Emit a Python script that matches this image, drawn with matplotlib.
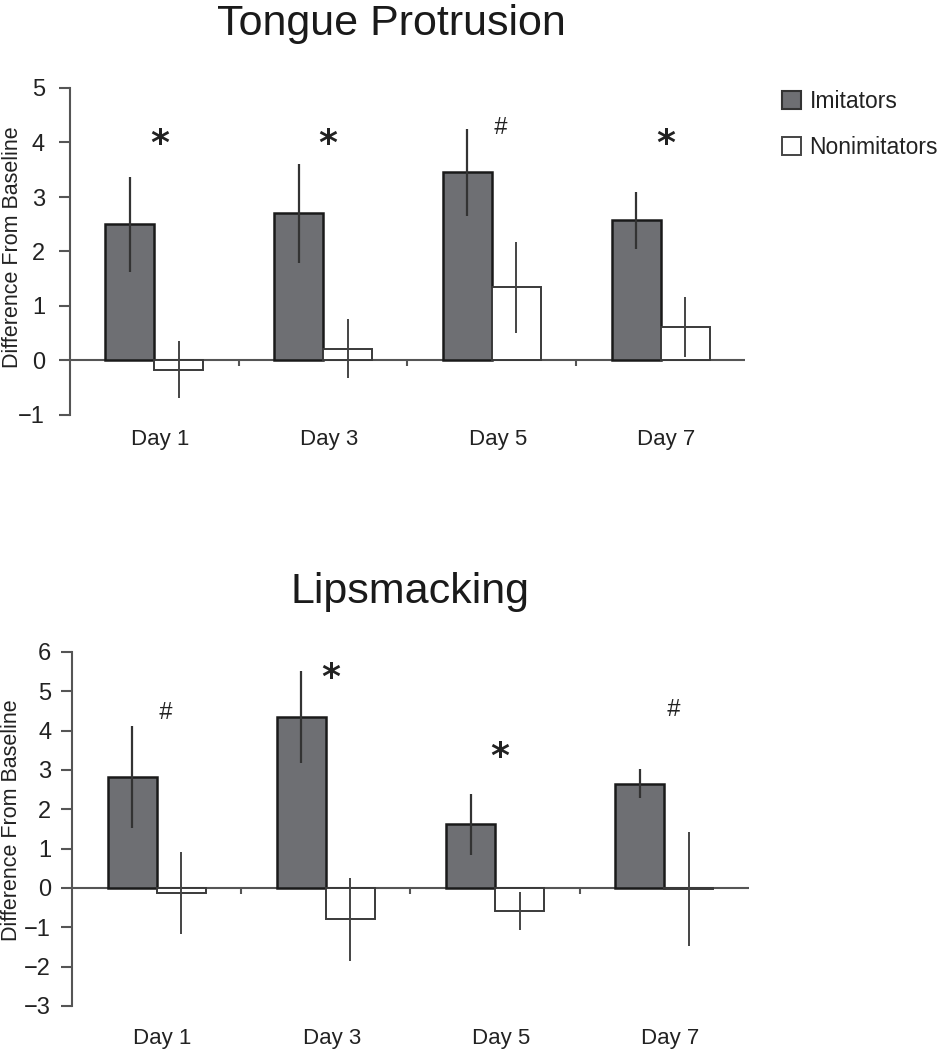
import numpy as np
import matplotlib
matplotlib.use("Agg")
import matplotlib.pyplot as plt
from matplotlib.patches import Patch

plt.rcParams['font.family'] = ['Liberation Sans', 'DejaVu Sans']

days = ["Day 1", "Day 3", "Day 5", "Day 7"]

# Tongue protrusion
tp_imit = [2.50, 2.70, 3.45, 2.57]
tp_imit_err = [0.87, 0.91, 0.80, 0.53]
tp_non = [-0.17, 0.22, 1.34, 0.61]
tp_non_err = [0.52, 0.55, 0.83, 0.55]
tp_marks = ["*", "*", "#", "*"]
tp_mark_y = [4.1, 4.1, 4.28, 4.1]

# Lipsmacking
ls_imit = [2.82, 4.34, 1.62, 2.65]
ls_imit_err = [1.30, 1.17, 0.77, 0.37]
ls_non = [-0.13, -0.80, -0.59, -0.03]
ls_non_err = [1.05, 1.06, 0.48, 1.45]
ls_marks = ["#", "*", "*", "#"]
ls_mark_y = [4.45, 5.5, 3.5, 4.53]

GRAY = "#6e6f73"
W = 0.29

fig = plt.figure(figsize=(9.45, 10.5), dpi=100)


def panel(rect, title, title_x, title_y, imit, imit_err, non, non_err, marks, mark_y,
          ylim, yticks, xpad, ypad, ylab_xy, star_shift):
    ax = fig.add_axes(rect)
    x = np.arange(len(days))
    ax.bar(x - W / 2, imit, W, color=GRAY, edgecolor="#1a1a1a", linewidth=1.8, zorder=2)
    ax.bar(x + W / 2, non, W, color="white", edgecolor="#3a3a3a", linewidth=1.4, zorder=2)
    ax.errorbar(x - W / 2, imit, yerr=imit_err, fmt="none", ecolor="#333333",
                elinewidth=1.6, capsize=0, zorder=3)
    ax.errorbar(x + W / 2, non, yerr=non_err, fmt="none", ecolor="#444444",
                elinewidth=1.4, capsize=0, zorder=3)
    ax.axhline(0, color="#555555", linewidth=1.5, zorder=1)
    bounds = x[:-1] + 0.5
    ax.plot(bounds, np.zeros(len(bounds)), linestyle="none", marker=3,
            markersize=4, color="#555555", markeredgewidth=1.5, zorder=1)
    for xi, m, my in zip(x, marks, mark_y):
        if m == "*":
            ax.text(xi + 0.03, my - star_shift, m, ha="center", va="center", fontsize=26,
                    color="#222222", family="DejaVu Sans", fontweight="bold")
        else:
            ax.text(xi + 0.05, my, m, ha="center", va="center", fontsize=17,
                    color="#222222", style="italic")
    ax.set_xlim(-0.5, 3.5)
    ax.set_ylim(*ylim)
    ax.set_yticks(yticks)
    ax.set_yticklabels([("\u2212%d" % -t) if t < 0 else str(t) for t in yticks])
    ax.set_xticks(x + 0.035)
    ax.set_xticklabels(days, fontsize=16, color="#222222")
    ax.tick_params(axis="x", length=0, pad=xpad)
    ax.tick_params(axis="y", length=8, width=1.5, color="#555555", labelsize=17,
                   pad=ypad, labelcolor="#222222")
    for s in ("top", "right", "bottom"):
        ax.spines[s].set_visible(False)
    ax.spines["left"].set_color("#555555")
    ax.spines["left"].set_linewidth(1.5)
    ax.set_ylabel("Difference From Baseline", fontsize=15.5, color="#222222")
    ax.yaxis.set_label_coords(*ylab_xy)
    fig.text(title_x, title_y, title, ha="center", va="baseline",
             fontsize=31, color="#1a1a1a")
    return ax


ax1 = panel([70 / 945, 1 - 415 / 1050, 675 / 945, 327 / 1050], "Tongue Protrusion",
            391 / 945, 1 - 35 / 1050,
            tp_imit, tp_imit_err, tp_non, tp_non_err, tp_marks, tp_mark_y,
            (-1, 5), list(range(-1, 6)), 10, 10, ((23 - 70) / 675, 0.514), 0.12)
ax2 = panel([72 / 945, 1 - 1006 / 1050, 677 / 945, 354 / 1050], "Lipsmacking",
            410 / 945, 1 - 603 / 1050,
            ls_imit, ls_imit_err, ls_non, ls_non_err, ls_marks, ls_mark_y,
            (-3, 6), list(range(-3, 7)), 16, 7, ((22 - 72) / 677, 0.525), 0.17)

handles = [Patch(facecolor=GRAY, edgecolor="#333333", linewidth=1.5, label="Imitators"),
           Patch(facecolor="white", edgecolor="#444444", linewidth=1.4, label="Nonimitators")]
fig.legend(handles=handles, loc="upper left", bbox_to_anchor=(782 / 945, 1 - 90 / 1050),
           frameon=False, fontsize=16.5, handlelength=0.85, handleheight=0.85,
           handletextpad=0.35, labelspacing=1.0, borderpad=0, borderaxespad=0,
           labelcolor="#222222")

fig.savefig("out.png", dpi=100)
